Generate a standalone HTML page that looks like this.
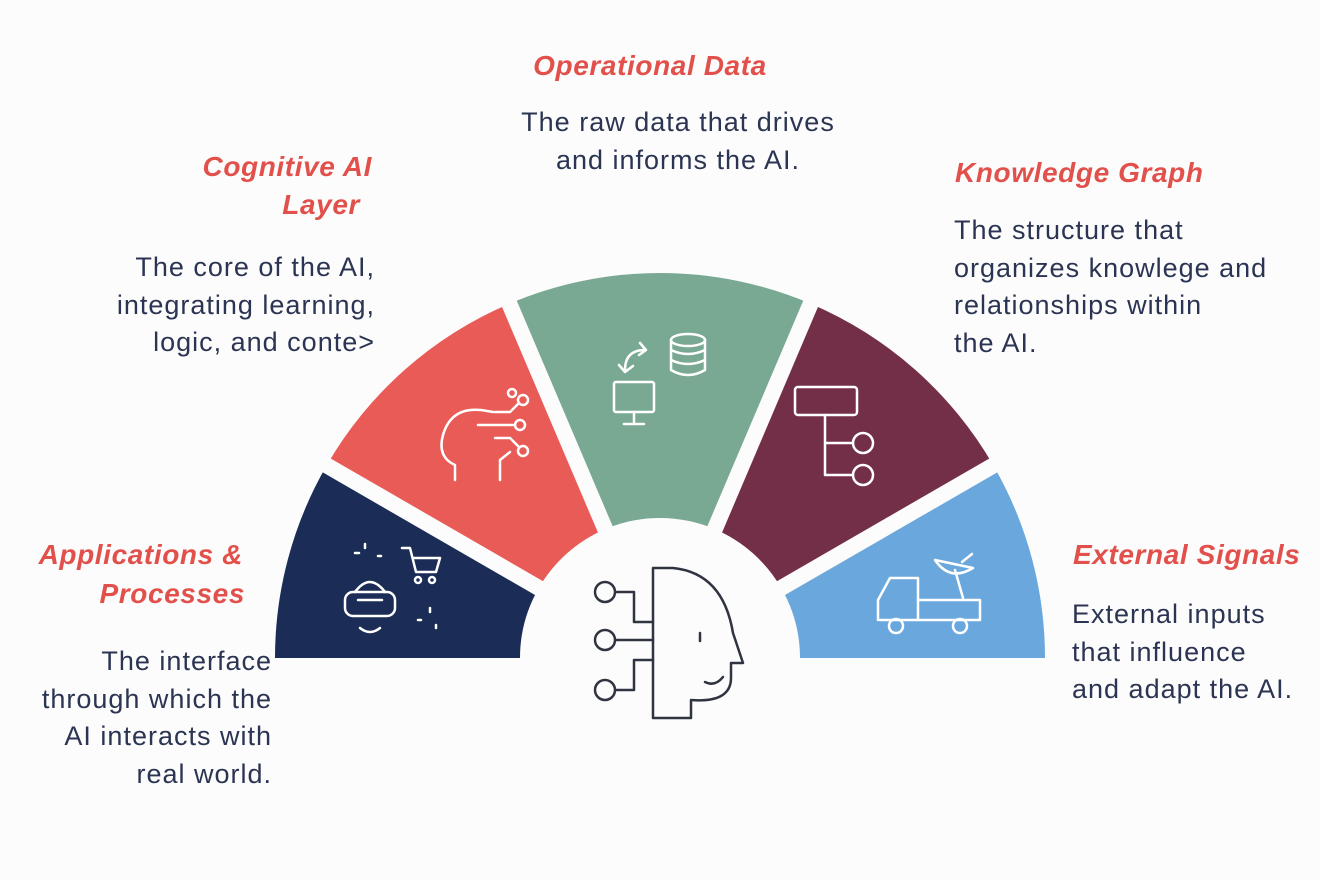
<!DOCTYPE html>
<html><head><meta charset="utf-8"><style>
html,body{margin:0;padding:0;background:#fcfcfc;}
body{width:1320px;height:880px;position:relative;overflow:hidden;font-family:"Liberation Sans",sans-serif;}
.t{position:absolute;color:#e2504b;font-weight:bold;font-style:italic;font-size:28px;line-height:38px;white-space:nowrap;letter-spacing:0.6px;}
.b{position:absolute;color:#2b3452;font-size:27px;line-height:37.5px;white-space:nowrap;letter-spacing:1px;}
.r{text-align:right}
svg{position:absolute;left:0;top:0}
</style></head><body>
<svg width="1320" height="880" viewBox="0 0 1320 880">
<g>
<path d="M275,658 A385,385 0 0 1 326.6,465.5 L538.8,588 A140,140 0 0 0 520,658 Z" fill="#1b2d56"/>
<path d="M326.6,465.5 A385,385 0 0 1 509.6,303.6 L605.3,529.1 A140,140 0 0 0 538.8,588 Z" fill="#e95b56"/>
<path d="M509.6,303.6 A385,385 0 0 1 810.4,303.6 L714.7,529.1 A140,140 0 0 0 605.3,529.1 Z" fill="#7aa993"/>
<path d="M810.4,303.6 A385,385 0 0 1 993.4,465.5 L781.2,588 A140,140 0 0 0 714.7,529.1 Z" fill="#742f48"/>
<path d="M993.4,465.5 A385,385 0 0 1 1045,658 L800,658 A140,140 0 0 0 781.2,588 Z" fill="#6aa7dd"/>
</g>
<g stroke="#fcfcfc" stroke-width="16">
<line x1="660" y1="658" x2="300" y2="450"/>
<line x1="660" y1="658" x2="495" y2="270"/>
<line x1="660" y1="658" x2="825" y2="270"/>
<line x1="660" y1="658" x2="1020" y2="450"/>
</g>
<g fill="none" stroke="#fff" stroke-width="2.5" stroke-linecap="round" stroke-linejoin="round">
<rect x="345" y="592" width="50" height="24" rx="8"/><path d="M358,600 h24"/><path d="M355,592 q15,-20 30,0"/><path d="M360,628 q10,8 20,0"/>
<path d="M402,548 h8 l6,24 h20 l4,-14 h-26"/><circle cx="418" cy="580" r="3"/><circle cx="432" cy="580" r="3"/>
<path d="M365,544 v4 M355,553 h4 M378,556 h3 M430,608 v4 M418,620 h3 M436,625 v3"/>
<path d="M455,480 v-15 q-18,-8 -12,-30 q8,-28 38,-25 l12,2"/><path d="M500,480 v-20 l10,-8"/>
<path d="M478,425 h35 M495,412 h15 l8,-8 M495,438 h15 l8,8"/><circle cx="523" cy="400" r="5"/><circle cx="520" cy="425" r="5"/><circle cx="523" cy="451" r="5"/><circle cx="512" cy="393" r="4"/>
<ellipse cx="688" cy="340" rx="17" ry="6"/><path d="M671,340 v30 q17,10 34,0 v-30 M671,350 q17,8 34,0 M671,360 q17,8 34,0"/>
<rect x="614" y="382" width="40" height="30" rx="2"/><path d="M634,412 v10 M624,424 h20"/>
<path d="M625,370 q0,-20 20,-20 M640,343 l6,7 -7,5 M633,366 l-8,6 -6,-7"/>
<rect x="795" y="387" width="62" height="28" rx="3"/><path d="M825,415 v60 M825,443 h28 M825,475 h28"/><circle cx="863" cy="443" r="10"/><circle cx="863" cy="475" r="10"/>
<path d="M878,620 v-20 l12,-22 h28 v42 M918,600 h62 v20 h-100"/><circle cx="896" cy="626" r="7"/><circle cx="960" cy="626" r="7"/>
<path d="M935,560 q15,22 38,8 z M955,570 l8,28 M962,562 l10,-8"/>
</g>
<g fill="none" stroke="#2f3440" stroke-width="2.5" stroke-linecap="round" stroke-linejoin="round">
<path d="M653,568 h20 q50,5 60,65 l10,30 h-12 v15 q0,25 -40,22 v18 h-38 z"/>
<path d="M700,633 v8 M705,682 q10,5 18,-5"/>
<path d="M616,592 h18 v30 h19 M616,640 h37 M616,690 h18 v-30 h19"/>
<circle cx="605" cy="592" r="10"/><circle cx="605" cy="640" r="10"/><circle cx="605" cy="690" r="10"/>
</g>
</svg>
<div class="t" style="left:450px;top:47px;width:400px;text-align:center">Operational Data</div>
<div class="b" style="left:478px;top:104px;width:400px;text-align:center">The raw data that drives<br>and informs the AI.</div>
<div class="t r" style="right:948px;top:148px">Cognitive AI</div>
<div class="t r" style="right:960px;top:186px">Layer</div>
<div class="b r" style="right:945px;top:249px">The core of the AI,<br>integrating learning,<br>logic, and conte&gt;</div>
<div class="t" style="left:955px;top:154px">Knowledge Graph</div>
<div class="b" style="left:954px;top:212px">The structure that<br>organizes knowlege and<br>relationships within<br>the AI.</div>
<div class="t r" style="right:1077px;top:536px">Applications &amp;</div>
<div class="t r" style="right:1075px;top:575px">Processes</div>
<div class="b r" style="right:1048px;top:643px">The interface<br>through which the<br>AI interacts with<br>real world.</div>
<div class="t" style="left:1073px;top:536px">External Signals</div>
<div class="b" style="left:1072px;top:596px">External inputs<br>that influence<br>and adapt the AI.</div>
</body></html>
